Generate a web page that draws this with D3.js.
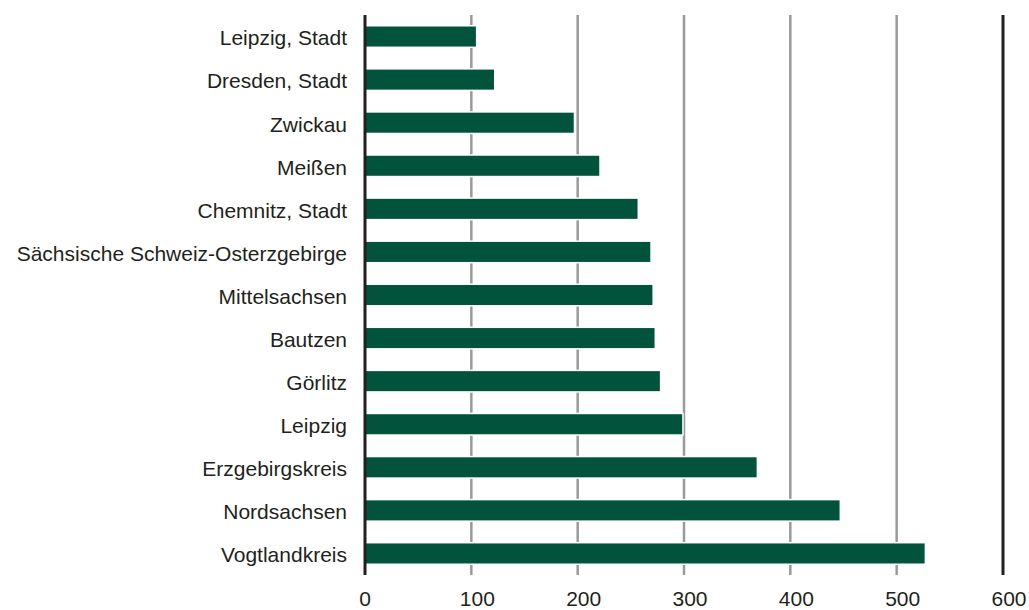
<!DOCTYPE html>
<html>
<head>
<meta charset="utf-8">
<script src="https://cdn.jsdelivr.net/npm/d3@7"></script>
<style>
    body { margin: 0; background: #fff; }
    svg { display: block; font-family: "Liberation Sans", Arial, sans-serif; }
</style>
</head>
<body>
<div id="chart"></div>
<script>
// Landkreise / kreisfreie Städte, top to bottom
const regions = [
    'Leipzig, Stadt', 'Dresden, Stadt', 'Zwickau', 'Meißen', 'Chemnitz, Stadt',
    'Sächsische Schweiz-Osterzgebirge', 'Mittelsachsen', 'Bautzen', 'Görlitz',
    'Leipzig', 'Erzgebirgskreis', 'Nordsachsen', 'Vogtlandkreis'
];
const values = [105, 122, 197, 221, 257, 269, 271, 273, 278, 299, 369, 447, 527];
const xTicks = [0, 100, 200, 300, 400, 500, 600];

const width = 1029, height = 610;
const plotLeft = 365, plotRight = 1003, plotTop = 15, plotBottom = 575;

const svg = d3.select('#chart')
    .append('svg')
    .attr('width', width)
    .attr('height', height);

const x = d3.scaleLinear().domain([0, 600]).range([plotLeft, plotRight]);
const y = d3.scaleBand()
    .domain(regions)
    .range([plotTop, plotBottom])
    .paddingInner(0.5)
    .paddingOuter(0.25);

// grid lines behind bars
svg.append('g')
    .selectAll('line')
    .data(xTicks.filter(d => d > 0 && d < 600))
    .enter()
    .append('line')
    .attr('x1', d => x(d))
    .attr('x2', d => x(d))
    .attr('y1', plotTop)
    .attr('y2', plotBottom)
    .attr('stroke', '#9a9a9a')
    .attr('stroke-width', 2.5);

// bars
svg.append('g')
    .selectAll('rect')
    .data(values)
    .enter()
    .append('rect')
    .attr('x', x(0))
    .attr('y', (d, i) => y(regions[i]))
    .attr('width', d => x(d) - x(0))
    .attr('height', y.bandwidth())
    .attr('fill', '#02533b')
    .attr('stroke', '#fff')
    .attr('stroke-width', 1.5);

// frame lines at 0 and 600
svg.append('g')
    .selectAll('line')
    .data([0, 600])
    .enter()
    .append('line')
    .attr('x1', d => x(d))
    .attr('x2', d => x(d))
    .attr('y1', plotTop)
    .attr('y2', plotBottom)
    .attr('stroke', '#231f20')
    .attr('stroke-width', 3);

// category labels
svg.append('g')
    .selectAll('text')
    .data(regions)
    .enter()
    .append('text')
    .attr('x', 347)
    .attr('y', d => y(d) + y.bandwidth() / 2)
    .attr('dy', '0.42em')
    .attr('text-anchor', 'end')
    .attr('font-size', 21)
    .attr('fill', '#231f20')
    .text(d => d);

// x tick labels
svg.append('g')
    .selectAll('text')
    .data(xTicks)
    .enter()
    .append('text')
    .attr('x', d => x(d) + (d === 0 ? 0 : 6))
    .attr('y', 606)
    .attr('text-anchor', 'middle')
    .attr('font-size', 21)
    .attr('fill', '#231f20')
    .text(d => d);
</script>
</body>
</html>
